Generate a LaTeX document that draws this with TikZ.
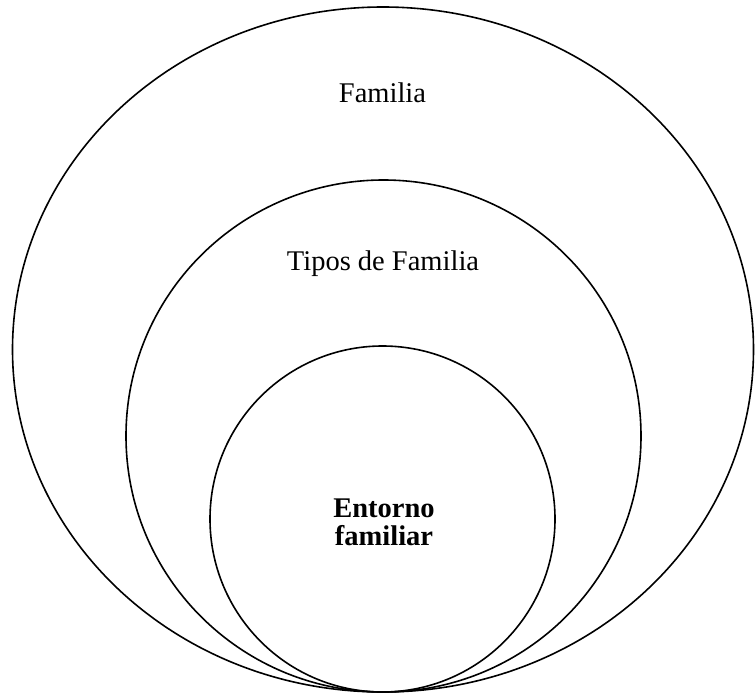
\documentclass[tikz,border=0pt]{standalone}
\usepackage{fontspec}
\setmainfont{Liberation Serif}
\usetikzlibrary{shapes.geometric}
\begin{document}
\begin{tikzpicture}[x=1pt,y=-1pt,
  ring/.style={draw=black,line width=1.6pt,ellipse,inner sep=0pt,outer sep=0pt},
  lbl/.style={font=\fontsize{28.5}{30}\selectfont,anchor=base,inner sep=0pt},
  blbl/.style={font=\fontsize{28.5}{28.5}\selectfont\bfseries,align=center,inner sep=0pt}]
\useasboundingbox (0,0) rectangle (756,696);
\node[ring,minimum width=741pt,minimum height=685pt] (outer) at (383,349.5) {};
\node[ring,minimum width=515pt,minimum height=512pt] (middle) at (383.5,436) {};
\node[ring,minimum width=345pt,minimum height=346pt] (inner) at (382.5,519) {};
\node[lbl] (t1) at (382.5,102) {Familia};
\node[lbl] (t2) at (383,270) {Tipos de Familia};
\node[lbl] (t3) at (384,517) {\bfseries Entorno};
\node[lbl] (t4) at (384,545) {\bfseries familiar};
\end{tikzpicture}
\end{document}
